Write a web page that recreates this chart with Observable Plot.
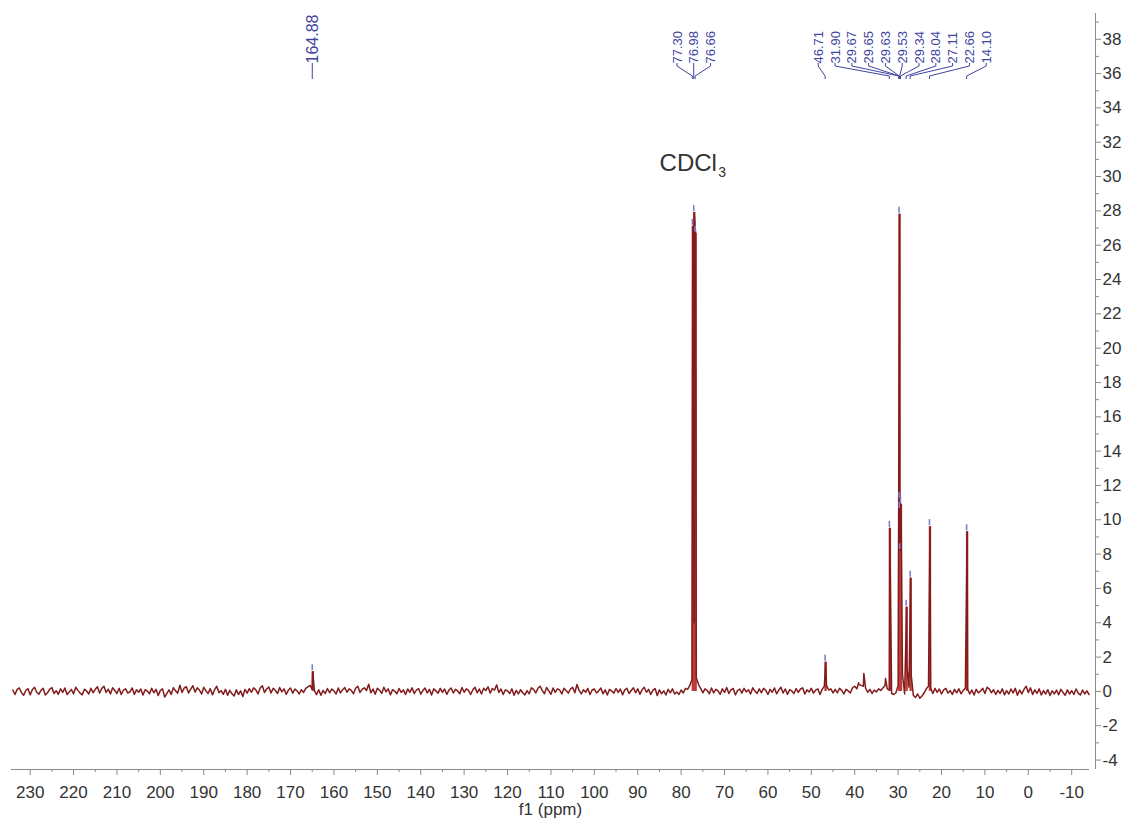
<!DOCTYPE html>
<html><head><meta charset="utf-8">
<script src="https://cdn.jsdelivr.net/npm/d3@7"></script>
<script src="https://cdn.jsdelivr.net/npm/@observablehq/plot@0.6"></script>
<style>
html,body{margin:0;padding:0;background:#fff;}
svg{display:block;}
</style></head><body>
<script>
// ---- sampled spectrum: intensity every 0.5 ppm from 234 ppm down to -14 ppm ----
const ppmStart = 234, ppmStep = 0.5;
const intensity = [
0.08,-0.18,0.12,0.2,-0.07,-0.22,0.05,0.16,-0.2,0.1,0.24,-0.05,-0.16,0.06,0.18,-0.21,-0.08,0.14,0.22,-0.12,
0.04,-0.17,0.15,-0.06,0.2,-0.18,-0.04,0.12,-0.14,0.24,0.06,-0.1,-0.2,0.13,0.02,-0.15,0.18,-0.08,0.12,0.27,
-0.09,0.17,0.3,-0.06,0.13,-0.15,0.21,0.05,-0.12,0.18,-0.18,0.08,0.15,-0.1,-0.02,0.2,-0.17,0.09,-0.05,0.14,
-0.21,0.1,0.02,-0.14,0.18,-0.08,0.12,-0.24,0.06,0.15,-0.33,-0.12,0.09,-0.18,0.22,0.03,-0.1,0.36,-0.06,0.2,
0.27,-0.09,0.13,0.33,-0.04,0.21,0.08,-0.15,0.24,0.03,-0.12,0.16,-0.2,0.1,0.3,-0.08,0.05,-0.17,0.12,-0.22,
0.06,-0.14,-0.27,0.09,-0.18,0.03,-0.3,0.12,-0.1,0.16,-0.05,0.21,0.09,-0.15,0.2,0.33,-0.06,0.14,0.26,-0.09,
0.18,0.05,-0.12,0.22,-0.03,0.15,-0.17,0.08,0.2,-0.1,0.14,0.03,-0.15,0.1,-0.06,0.18,0.27,0.35,0.12,0.03,
-0.18,0.09,-0.22,0.06,-0.12,0.17,-0.08,0.14,0.03,-0.15,0.2,-0.09,0.1,0.22,-0.05,0.15,0.06,-0.14,0.18,0.3,
-0.06,0.12,0.21,0.05,0.42,-0.08,0.14,-0.17,0.18,0.08,-0.12,0.24,-0.03,0.15,-0.2,0.1,0.02,-0.14,0.17,-0.06,
0.09,-0.18,0.14,-0.05,0.21,-0.12,0.08,0.17,-0.15,0.05,0.2,-0.09,0.12,-0.21,0.15,0.03,-0.1,0.18,-0.06,0.14,
-0.17,0.08,0.2,-0.09,0.12,0.03,-0.14,0.23,-0.05,0.15,0.06,-0.18,0.1,0.24,-0.08,0.14,-0.15,0.18,0.05,0.27,
-0.1,0.17,0.08,0.38,-0.06,0.14,-0.18,0.09,0.03,-0.12,0.15,-0.22,0.06,-0.15,0.1,-0.08,-0.2,0.05,-0.14,0.21,
0.12,-0.09,0.18,0.3,0.06,-0.14,0.23,0.03,-0.17,0.2,-0.06,0.15,0.09,-0.15,0.18,0.05,-0.1,0.14,0.24,-0.08,
0.4,0.06,-0.15,0.1,-0.05,0.17,-0.18,0.08,0.14,-0.09,0.03,0.2,-0.14,0.09,-0.21,0.12,0.02,-0.1,0.17,-0.06,
0.14,-0.2,0.08,0.18,-0.12,0.05,0.21,-0.08,0.15,-0.17,0.1,0.24,-0.05,0.12,-0.18,0.06,0.17,-0.24,0.09,-0.14,
0.03,-0.21,0.12,-0.08,0.15,-0.15,-0.03,-0.18,0.08,-0.09,0.18,0.12,0.35,0.7,4.0,0.8,0.4,0.18,-0.08,0.15,
0.06,-0.14,0.2,-0.09,0.12,0.03,-0.17,0.15,-0.06,0.23,-0.12,0.09,0.17,-0.2,0.05,0.14,-0.1,0.18,-0.03,0.1,
-0.15,0.21,0.02,-0.12,0.15,-0.08,0.18,0.06,-0.18,0.12,-0.05,0.2,-0.14,0.08,0.24,-0.09,0.14,-0.17,0.1,0.03,
-0.12,0.17,-0.06,0.14,0.21,-0.15,0.09,-0.03,0.18,-0.1,0.08,0.15,-0.18,0.12,0.3,0.35,0.08,0.15,-0.09,0.12,
-0.08,0.18,0.06,-0.15,0.12,0.03,-0.09,0.21,0.3,0.15,0.4,0.35,0.3,0.2,-0.06,0.12,-0.12,0.08,-0.03,0.15,
0.06,0.2,0.35,0.15,0.08,-0.12,-0.18,-0.08,0.35,9.0,1.0,-0.15,1.5,0.25,1.0,-0.22,-0.35,-0.15,-0.4,-0.27,
-0.08,0.15,0.3,0.2,-0.12,0.18,-0.06,0.14,-0.15,0.09,0.17,-0.1,0.05,-0.18,0.12,-0.08,0.15,-0.14,0.06,0.18,
0.15,-0.15,0.08,-0.21,0.12,-0.09,0.03,0.18,-0.12,0.24,0.15,-0.08,0.1,-0.18,0.06,-0.12,0.15,-0.2,0.05,-0.15,
0.14,-0.09,0.18,-0.22,0.08,-0.14,0.12,0.3,-0.06,0.21,-0.18,0.09,-0.12,0.15,-0.21,0.05,-0.15,0.1,-0.24,0.03,
-0.14,0.08,-0.2,0.12,-0.06,-0.22,0.09,-0.15,0.05,-0.18,0.14,-0.1,-0.21,0.08,-0.15,0.03,-0.18
];

// ---- picked (labelled) peaks ----
const peakPpm    = [164.88, 77.30, 76.98, 76.66, 46.71, 31.90, 29.67, 29.65, 29.63, 29.53, 29.34, 28.04, 27.11, 22.66, 14.10];
const peakHeight = [1.15,   27.1,  27.9,  26.7,  1.7,   9.5,   27.8,  11.2,  10.6,  8.2,   10.9,  4.9,   6.6,   9.6,   9.3];
const solventPpm = [77.30, 76.98, 76.66];
const solventHeight = [27.1, 27.9, 26.7];

// ---- small unlabelled peaks ----
const minorPpm    = [39.1, 37.9, 32.9];
const minorHeight = [0.5, 1.05, 0.75];

// ---- axes ----
const xTicks      = [230,220,210,200,190,180,170,160,150,140,130,120,110,100,90,80,70,60,50,40,30,20,10,0,-10];
const xMinorTicks = [225,215,205,195,185,175,165,155,145,135,125,115,105,95,85,75,65,55,45,35,25,15,5,-5];
const yTicks      = [-4,-2,0,2,4,6,8,10,12,14,16,18,20,22,24,26,28,30,32,34,36,38];
const yMinorTicks = [-3,-1,1,3,5,7,9,11,13,15,17,19,21,23,25,27,29,31,33,35,37,39];
const xDomain = [234.3, -14.1];
const yDomain = [-4.55, 39.5];
const xLabel = "f1 (ppm)";
const solventName = "CDCl", solventSub = "3";

// ---- layout ----
const W = 1127, H = 821;
const mL = 11, mR = 38, mT = 13, mB = 52;
const red = "#821c1c", redFill = "#bb3b37";
const blue = "#3f449f", blueMark = "#7b7fd4";
const axisCol = "#8a8a8a", textCol = "#333";
const font = "'Liberation Sans', Arial, Helvetica, sans-serif";

// spectrum table
const spectrum = intensity.map((v, i) => ({ppm: ppmStart - i * ppmStep, v}));
peakPpm.forEach((p, i) => spectrum.push({ppm: p, v: peakHeight[i]}));
minorPpm.forEach((p, i) => spectrum.push({ppm: p, v: minorHeight[i]}));
spectrum.sort((a, b) => b.ppm - a.ppm);

const peaks = peakPpm.map((p, i) => ({ppm: p, h: peakHeight[i]}));

// label layout (evenly spaced, overlapping groups merged and centred)
const S = 16.8;
const xs = d3.scaleLinear(xDomain, [mL, W - mR]);
const labels = peakPpm.map(p => ({ppm: p, text: p.toFixed(2), px: xs(p)})).sort((a, b) => a.px - b.px);
let clusters = labels.map(d => ({items: [d], c: d.px}));
let merged = true;
while (merged) {
  merged = false;
  for (let i = 0; i < clusters.length - 1; i++) {
    const a = clusters[i], b = clusters[i + 1];
    const aR = a.c + (a.items.length - 1) / 2 * S, bL = b.c - (b.items.length - 1) / 2 * S;
    if (bL - aR < S) {
      const all = [...a.items, ...b.items];
      clusters.splice(i, 2, {items: all, c: d3.mean(all, d => d.px)});
      merged = true; break;
    }
  }
}
clusters.forEach(cl => cl.items.forEach((d, j) => {
  d.lx = xs.invert(cl.c + (j - (cl.items.length - 1) / 2) * S);
  d.single = cl.items.length === 1;
}));

const labelTop = 50; // px below frame top where the label text starts

const chart = Plot.plot({
  width: W, height: H,
  marginLeft: mL, marginRight: mR, marginTop: mT, marginBottom: mB,
  x: {domain: xDomain},
  y: {domain: yDomain},
  style: {fontFamily: font, background: "#fff", color: textCol},
  marks: [
    Plot.ruleX(peaks, {x: "ppm", y1: 0, y2: "h", stroke: redFill, strokeWidth: 2.4}),
    Plot.line(spectrum, {x: "ppm", y: "v", stroke: red, strokeWidth: 1.5}),
    Plot.ruleY([yDomain[0]], {stroke: axisCol}),
    Plot.ruleX([xDomain[1]], {dx: 6, stroke: axisCol}),
    Plot.axisX({anchor: "bottom", ticks: xTicks, tickSize: 6, tickPadding: 10, fontSize: 17, tickFormat: String, label: null, stroke: axisCol, fill: textCol}),
    Plot.axisX({anchor: "bottom", ticks: xMinorTicks, tickSize: 3, tickFormat: () => "", label: null, stroke: axisCol}),
    Plot.axisY({anchor: "right", ticks: yTicks, tickSize: 5, tickPadding: 2, dx: 6, fontSize: 17, tickFormat: String, label: null, stroke: axisCol, fill: textCol}),
    Plot.axisY({anchor: "right", ticks: yMinorTicks, tickSize: 3, dx: 6, tickFormat: () => "", label: null, stroke: axisCol}),
    Plot.text(labels.filter(d => !d.single), {x: "lx", text: "text", frameAnchor: "top", lineAnchor: "middle", dy: labelTop, rotate: -90, textAnchor: "start", fontSize: 13, fill: blue}),
    Plot.text(labels.filter(d => d.single), {x: "lx", text: "text", frameAnchor: "top", lineAnchor: "middle", dy: labelTop, rotate: -90, textAnchor: "start", fontSize: 16, fill: blue}),
    (index, scales, values, dims) => {
      const g = d3.create("svg:g").attr("fill", "none");
      const t = (dims && dims.marginTop != null ? dims.marginTop : mT) + labelTop;
      for (const d of labels) {
        const lx = scales.x(d.lx), px = scales.x(d.ppm);
        g.append("path").attr("stroke", blue).attr("stroke-width", 1)
          .attr("d", `M${lx},${t}V${t + 3}L${px},${t + 13}V${t + 16}`);
      }
      for (const p of peaks) {
        const X = scales.x(p.ppm), Y = scales.y(p.h);
        g.append("line").attr("stroke", blueMark).attr("stroke-width", 1.6)
          .attr("x1", X).attr("x2", X).attr("y1", Y - 1).attr("y2", Y - 7);
      }
      return g.node();
    },
    Plot.text([solventName], {x: d3.mean(solventPpm), y: d3.max(solventHeight), text: d => d, dx: -6, dy: -49, fontSize: 24, fill: textCol}),
    Plot.text([solventSub], {x: d3.mean(solventPpm), y: d3.max(solventHeight), text: d => d, dx: 28, dy: -40, fontSize: 14, fill: textCol}),
    Plot.text([xLabel], {frameAnchor: "bottom", lineAnchor: "middle", dy: 40, fontSize: 17, fill: textCol})
  ]
});
document.body.appendChild(chart);
</script>
</body></html>
